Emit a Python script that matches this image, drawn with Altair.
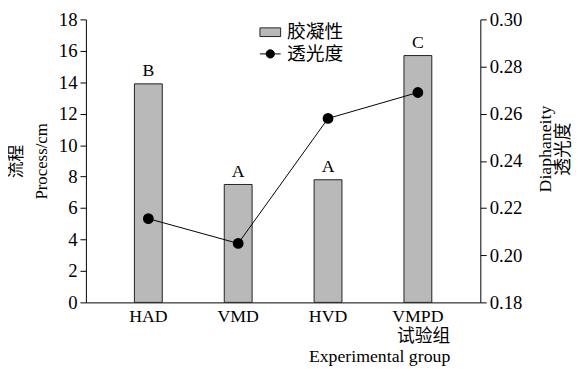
import altair as alt
import pandas as pd

groups = ["HAD", "VMD", "HVD", "VMPD"]
process = [13.9, 7.5, 7.8, 15.7]
letters = ["B", "A", "A", "C"]
diaphaneity = [0.2155, 0.205, 0.258, 0.269]

df = pd.DataFrame({
    "group": groups,
    "process": process,
    "letter": letters,
    "dia": diaphaneity,
    "bar_key": ["胶凝性"] * 4,
    "line_key": ["透光度"] * 4,
})

FONT = "Liberation Serif, 'Noto Sans CJK SC'"

x = alt.X("group:N", sort=groups,
          scale=alt.Scale(paddingInner=0.69, paddingOuter=0.54),
          axis=alt.Axis(title=["试验组", "Experimental group"], labelAngle=0,
                        ticks=False, labelPadding=5, labelFontSize=18,
                        titleAlign="right", titleX=369, titleY=26,
                        titleBaseline="top", titleFontSize=18, titleLineHeight=20,
                        titleFontWeight="normal", domainColor="black"))

y_left = alt.Y("process:Q",
               scale=alt.Scale(domain=[0, 18], nice=False),
               axis=alt.Axis(title=["流程", "Process/cm"], values=list(range(0, 19, 2)),
                             labelOverlap=False,
                             grid=False, tickSize=6, labelFontSize=19, labelPadding=3,
                             titleFontSize=17, titleFontWeight="normal",
                             titleLineHeight=25, titlePadding=8,
                             domainColor="black", tickColor="black"))

base = alt.Chart(df)

bars = base.mark_bar(stroke="#222222", strokeWidth=1).encode(
    x=x,
    y=y_left,
    fill=alt.Fill("bar_key:N",
                  scale=alt.Scale(domain=["胶凝性"], range=["#b9b9b9"]),
                  legend=alt.Legend(title=None, orient="none", legendX=176, legendY=2,
                                    symbolType="M-1,-0.42H1V0.42H-1Z", symbolSize=441,
                                    symbolStrokeColor="#222222", symbolStrokeWidth=1,
                                    labelOffset=6, labelFontSize=19, labelFont=FONT)),
)

labels = base.mark_text(baseline="bottom", dy=-4, fontSize=18, font=FONT).encode(
    x=x,
    y=y_left,
    text="letter:N",
)

left = alt.layer(bars, labels)

y_right = alt.Y("dia:Q",
                scale=alt.Scale(domain=[0.18, 0.30], nice=False),
                axis=alt.Axis(title=["Diaphaneity", "透光度"], orient="right",
                              values=[0.18, 0.20, 0.22, 0.24, 0.26, 0.28, 0.30],
                              labelOverlap=False,
                              format=".2f", grid=False, tickSize=6, labelFontSize=19,
                              labelPadding=3,
                              titleAngle=270, titleFontSize=18, titleFontWeight="normal",
                              titleLineHeight=18, titlePadding=15, titleY=131,
                              domainColor="black", tickColor="black"))

line = base.mark_line(color="black", strokeWidth=1,
                      point=alt.OverlayMarkDef(filled=True, color="black", size=80)).encode(
    x=x,
    y=y_right,
    stroke=alt.Stroke("line_key:N",
                      scale=alt.Scale(domain=["透光度"], range=["black"]),
                      legend=alt.Legend(title=None, orient="none", legendX=176, legendY=24,
                                        symbolType="M-1,0H1M-0.4,0A0.4,0.4 0 1,1 0.4,0A0.4,0.4 0 1,1 -0.4,0Z",
                                        symbolSize=441, symbolFillColor="black",
                                        symbolStrokeWidth=1,
                                        labelOffset=6, labelFontSize=19, labelFont=FONT)),
)

chart = alt.layer(left, line).resolve_scale(y="independent", fill="independent", stroke="independent").properties(
    width=400, height=287,
    autosize=alt.AutoSizeParams(type="none"),
    padding={"left": 79, "top": 9, "right": 95, "bottom": 65},
).configure(font=FONT).configure_view(stroke=None).configure_axis(
    labelFont=FONT, titleFont=FONT, labelColor="black", titleColor="black"
)

chart.save("out.html", embed_options={"renderer": "svg", "actions": False})
